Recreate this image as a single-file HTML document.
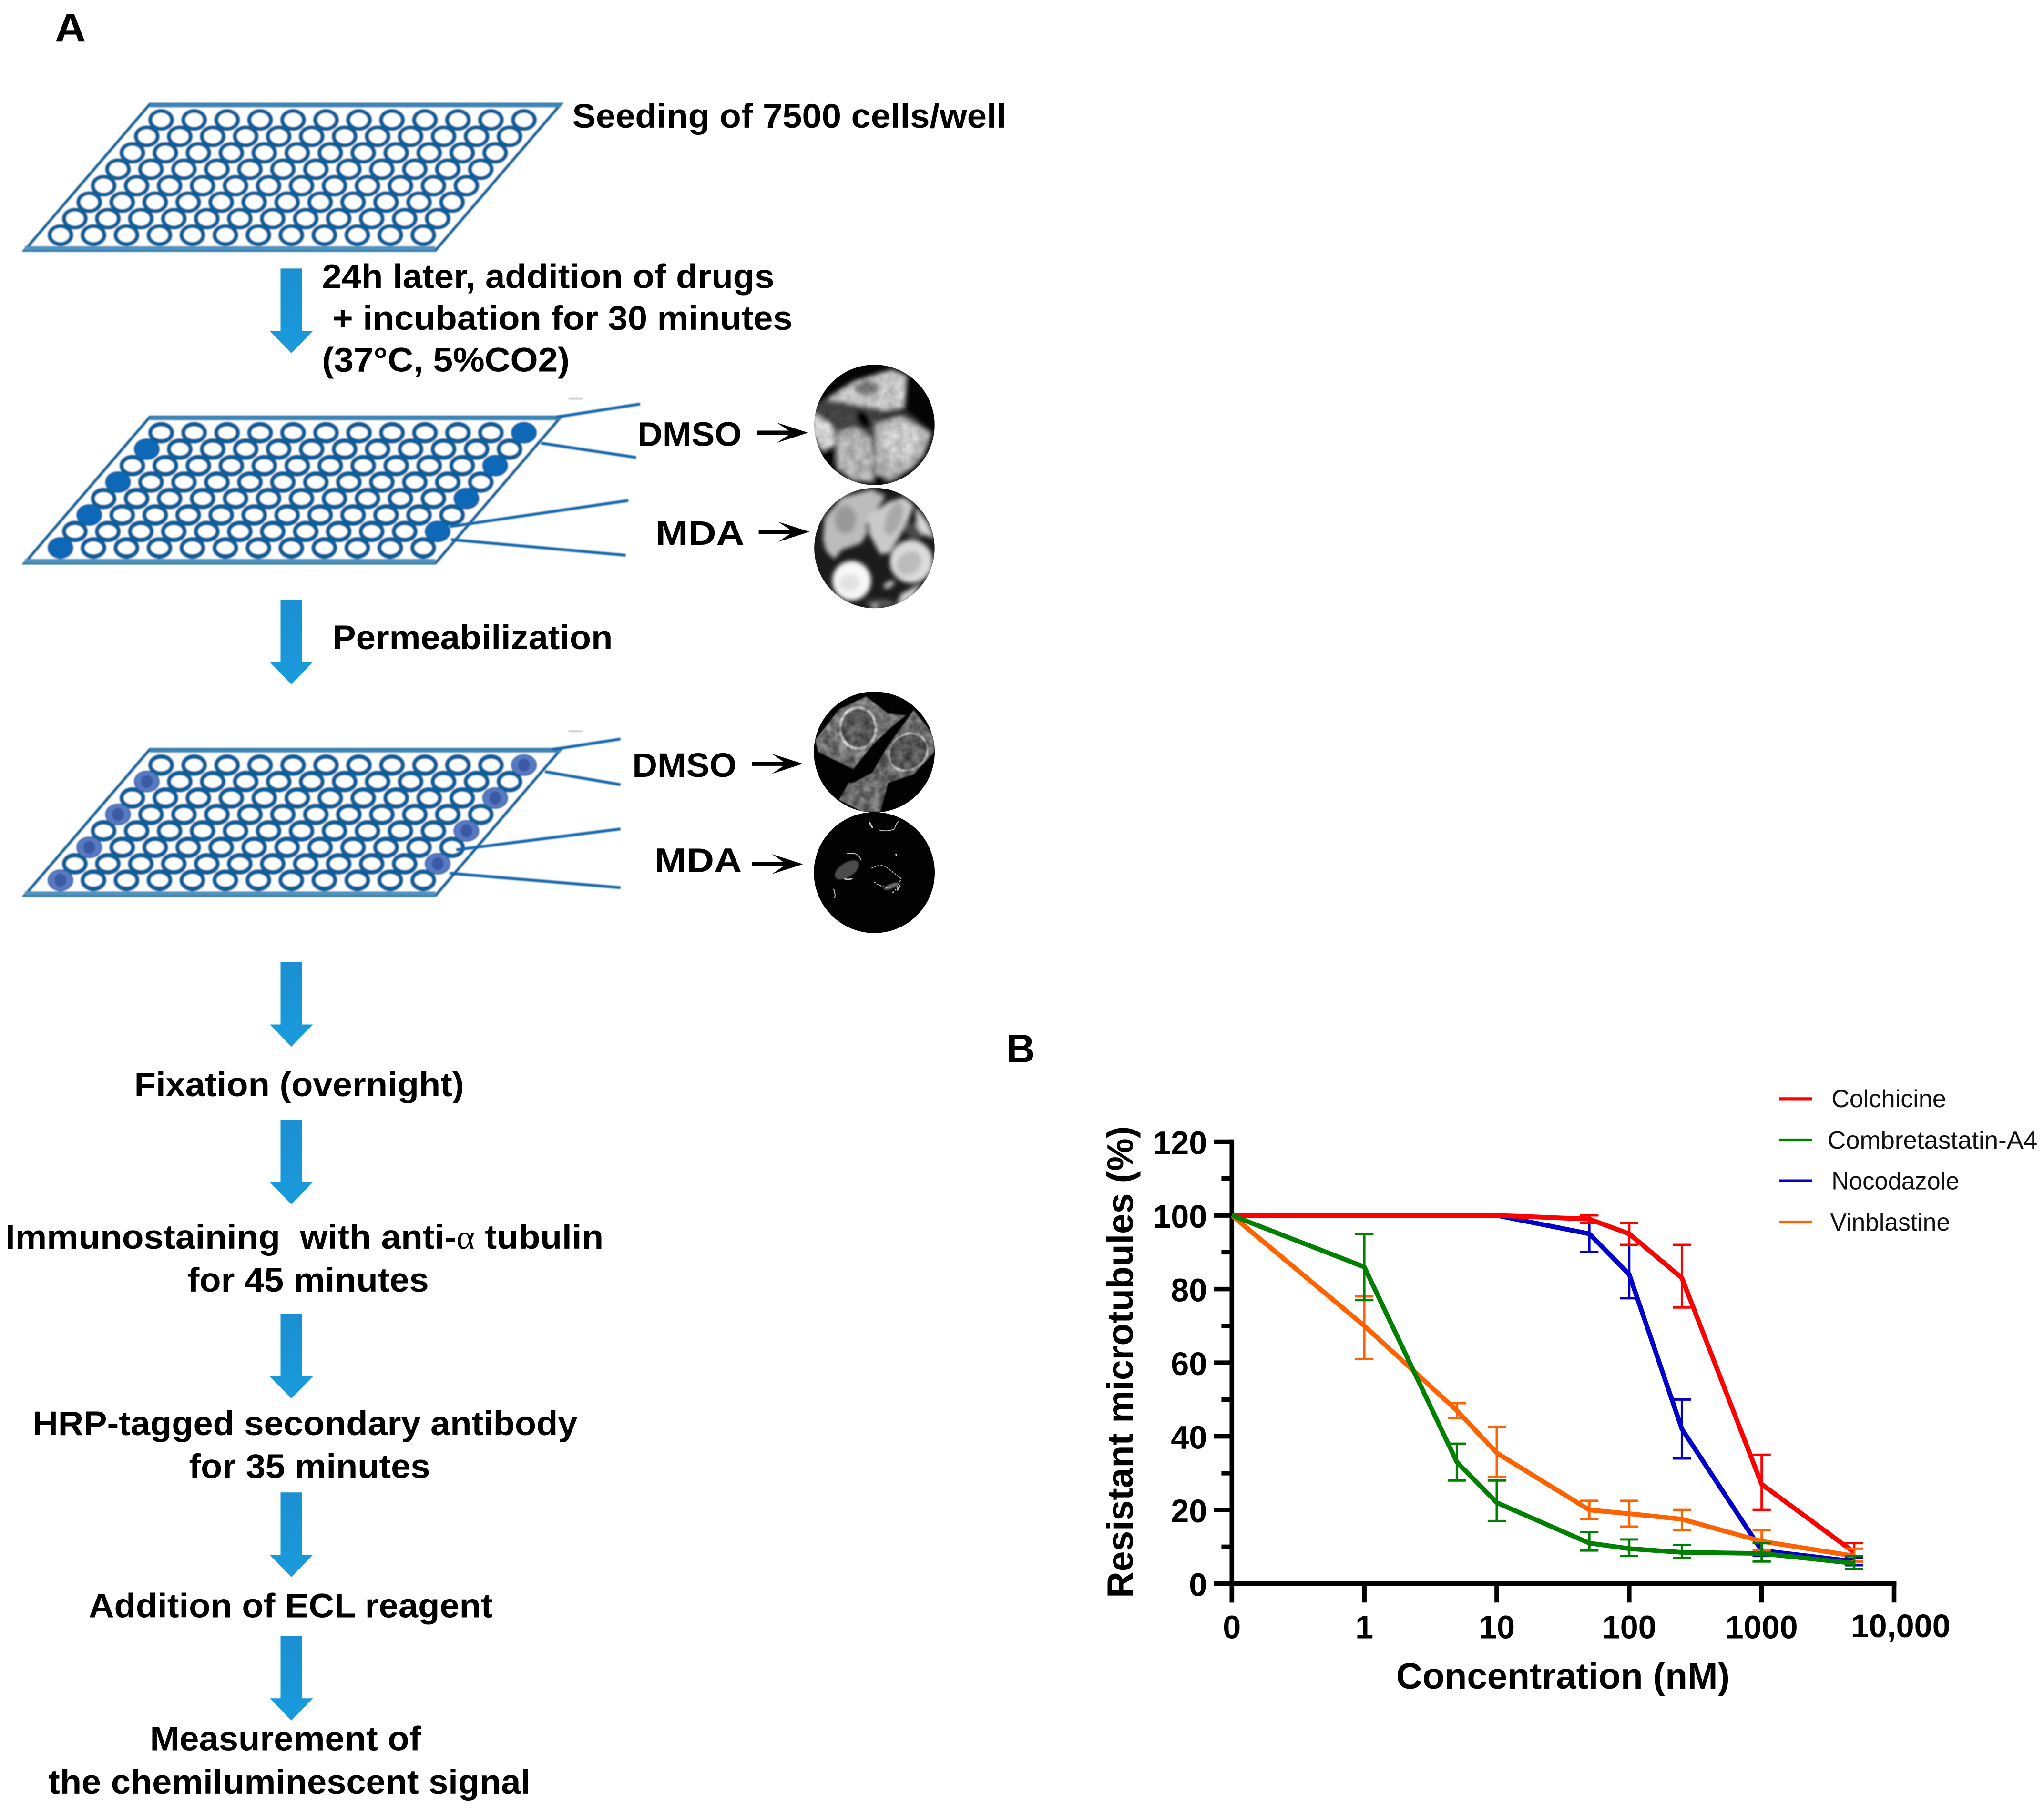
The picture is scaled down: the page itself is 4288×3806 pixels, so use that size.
<!DOCTYPE html>
<html lang="en">
<head>
<meta charset="utf-8">
<title>Microtubule resistance assay</title>
<style>
html,body{margin:0;padding:0;background:#fff}
svg{display:block}
text{font-family:"Liberation Sans",Arial,sans-serif;font-weight:700;fill:#000}
.s{font-size:26px}
.lbl{font-size:28px}
.tick{font-size:25px}
.leg{font-size:19px;font-weight:400;fill:#111}
</style>
</head>
<body>
<svg id="fig" xmlns="http://www.w3.org/2000/svg" width="4288" height="3806" viewBox="0 0 1568 1391.75">
<defs>
  <linearGradient id="ag" x1="0" y1="0" x2="0" y2="1"><stop offset="0" stop-color="#1b8fd2"/><stop offset="1" stop-color="#1a9bdc"/></linearGradient>
  <filter id="soft" x="-5%" y="-5%" width="110%" height="110%"><feGaussianBlur stdDeviation="0.5"/></filter>
  <filter id="zblur" x="-25%" y="-25%" width="150%" height="150%"><feGaussianBlur stdDeviation="14"/></filter>
  <filter id="zblur2" x="-25%" y="-25%" width="150%" height="150%"><feGaussianBlur stdDeviation="3.5"/></filter>
  <filter id="fib" x="-5%" y="-5%" width="110%" height="110%">
    <feTurbulence type="fractalNoise" baseFrequency="0.16" numOctaves="3" seed="4" result="n"/>
    <feColorMatrix in="n" type="matrix" values="0 0 0 0 1 0 0 0 0 1 0 0 0 0 1 1.9 0 0 0 -0.45" result="m"/>
    <feComposite in="SourceGraphic" in2="m" operator="in"/>
    <feGaussianBlur stdDeviation="0.3"/>
  </filter>
  <clipPath id="c1"><circle cx="670.8" cy="326" r="46.2"/></clipPath>
  <clipPath id="c2"><circle cx="670.8" cy="420.5" r="46.2"/></clipPath>
  <clipPath id="c3"><circle cx="670.7" cy="577" r="46.4"/></clipPath>
  <clipPath id="c4"><circle cx="670.7" cy="669.5" r="46.4"/></clipPath>
  <g id="blue-arrow"><path d="M-8.3 0H8.3V48H16.5L0 65L-16.5 48H-8.3Z" fill="url(#ag)"/></g>
  <g id="black-arrow"><path d="M0 -1.6H24L15 -7.7L39 0L15 7.7L24 1.6H0Z" fill="#000"/></g>
</defs>

<rect width="1568" height="1391.75" fill="#fff"/>

<text x="42" y="32" style="font-size:31px" textLength="24" lengthAdjust="spacingAndGlyphs">A</text>
<text x="772" y="815" style="font-size:31px" textLength="22" lengthAdjust="spacingAndGlyphs">B</text>

<g id="plates"></g>

<g stroke="#1566ad" stroke-width="2.2" fill="none" filter="url(#soft)">
  <path d="M427 320L491 310M415 340L488 351M345 404L482 384M346 414L480 426"/>
  <path d="M424 575L476 567M418 592L476 602M350 652L476 636M345 670L476 681"/>
  <path d="M436 306H447M436 561H447" stroke="#bbb" stroke-width="1"/>
</g>

<g>
  <use href="#blue-arrow" x="223.5" y="206"/>
  <use href="#blue-arrow" x="223.5" y="460"/>
  <use href="#blue-arrow" x="223.5" y="738"/>
  <use href="#blue-arrow" x="223.5" y="859"/>
  <use href="#blue-arrow" x="223.5" y="1008"/>
  <use href="#blue-arrow" x="223.5" y="1145"/>
  <use href="#blue-arrow" x="223.5" y="1255"/>
</g>

<g>
  <text class="s" x="439" y="98" textLength="333" lengthAdjust="spacingAndGlyphs">Seeding of 7500 cells/well</text>
  <text class="s" x="247" y="221" textLength="347" lengthAdjust="spacingAndGlyphs">24h later, addition of drugs</text>
  <text class="s" x="255" y="253" textLength="353" lengthAdjust="spacingAndGlyphs">+ incubation for 30 minutes</text>
  <text class="s" x="247" y="285" textLength="190" lengthAdjust="spacingAndGlyphs">(37°C, 5%CO2)</text>
  <text class="s" x="489" y="342" textLength="80" lengthAdjust="spacingAndGlyphs">DMSO</text>
  <text class="s" x="503" y="418" textLength="68" lengthAdjust="spacingAndGlyphs">MDA</text>
  <text class="s" x="255" y="498" textLength="215" lengthAdjust="spacingAndGlyphs">Permeabilization</text>
  <text class="s" x="485" y="596" textLength="80" lengthAdjust="spacingAndGlyphs">DMSO</text>
  <text class="s" x="502" y="669" textLength="67" lengthAdjust="spacingAndGlyphs">MDA</text>
  <text class="s" x="103" y="841" textLength="253" lengthAdjust="spacingAndGlyphs">Fixation (overnight)</text>
  <text class="s" x="4" y="958" textLength="459" lengthAdjust="spacingAndGlyphs" xml:space="preserve">Immunostaining  with anti-<tspan style="font-family:'Liberation Serif',serif;font-weight:400">α</tspan> tubulin</text>
  <text class="s" x="144" y="991" textLength="185" lengthAdjust="spacingAndGlyphs">for 45 minutes</text>
  <text class="s" x="25" y="1101" textLength="418" lengthAdjust="spacingAndGlyphs">HRP-tagged secondary antibody</text>
  <text class="s" x="145" y="1134" textLength="185" lengthAdjust="spacingAndGlyphs">for 35 minutes</text>
  <text class="s" x="68" y="1241" textLength="310" lengthAdjust="spacingAndGlyphs">Addition of ECL reagent</text>
  <text class="s" x="115" y="1343" textLength="208" lengthAdjust="spacingAndGlyphs">Measurement of</text>
  <text class="s" x="37" y="1376" textLength="370" lengthAdjust="spacingAndGlyphs">the chemiluminescent signal</text>
</g>

<g>
  <use href="#black-arrow" x="581" y="332"/>
  <use href="#black-arrow" x="582" y="408"/>
  <use href="#black-arrow" x="577" y="586"/>
  <use href="#black-arrow" x="577" y="663"/>
</g>

<!-- micrographs -->
<g clip-path="url(#c1)">
  <circle cx="670.8" cy="326" r="46.2" fill="#050505"/>
  <g transform="translate(618 274.25) scale(.1219)">
    <g filter="url(#zblur)">
      <path d="M90 270L300 300L480 345L640 340L800 470L750 620L680 700L540 790L430 790L300 780L190 700L190 600L100 590L55 480L60 340Z" fill="#4a4a4a"/>
      <path d="M120 265L300 150L540 75L640 115L625 320L480 335L300 295Z" fill="#d8d8d8"/>
      <ellipse cx="385" cy="195" rx="72" ry="50" fill="#858585"/>
      <path d="M40 340L170 430L190 540L100 590L40 480Z" fill="#e4e4e4"/>
      <path d="M200 470L310 440L410 500L430 640L420 785L300 775L195 700Z" fill="#c0c0c0"/>
      <ellipse cx="285" cy="610" rx="85" ry="95" fill="#c4c4c4"/>
      <path d="M440 420L600 370L790 480L740 610L670 690L540 770L440 740Z" fill="#c4c4c4"/>
      <ellipse cx="600" cy="520" rx="115" ry="115" fill="#e0e0e0"/>
      <ellipse cx="365" cy="390" rx="36" ry="62" transform="rotate(-28 365 390)" fill="#000"/>
      <ellipse cx="150" cy="625" rx="40" ry="50" fill="#000"/>
      <ellipse cx="465" cy="770" rx="35" ry="35" fill="#111"/>
      <ellipse cx="540" cy="350" rx="80" ry="16" fill="#333"/>
    </g>
  </g>
  <circle cx="670.8" cy="326" r="46.2" fill="#000" opacity=".18" filter="url(#fib)"/>
</g>
<g clip-path="url(#c2)">
  <circle cx="670.8" cy="420.5" r="46.2" fill="#1b1b1b"/>
  <g transform="translate(618 369.3) scale(.1219)">
    <g filter="url(#zblur)">
      <ellipse cx="690" cy="310" rx="60" ry="50" fill="#4a4a4a"/>
      <ellipse cx="470" cy="770" rx="90" ry="30" fill="#555"/>
      <path d="M110 370L120 230L230 100L420 50L500 100L380 280L390 320L350 390L230 430L180 490L130 440Z" fill="#bcbcbc"/>
      <ellipse cx="250" cy="240" rx="68" ry="90" fill="#999"/>
      <path d="M390 220L520 130L620 100L680 150L640 260L590 350L530 450L470 460L400 330Z" fill="#cacaca"/>
      <ellipse cx="555" cy="235" rx="48" ry="110" transform="rotate(20 555 235)" fill="#a8a8a8"/>
      <path d="M690 160L770 260L810 360L730 330L700 280Z" fill="#d6d6d6"/>
      <ellipse cx="665" cy="505" rx="135" ry="135" fill="#dcdcdc"/>
      <ellipse cx="650" cy="515" rx="85" ry="68" transform="rotate(-40 650 515)" fill="#bcbcbc"/>
      <ellipse cx="290" cy="625" rx="122" ry="125" fill="#f8f8f8"/>
      <ellipse cx="275" cy="640" rx="65" ry="55" fill="#e2e2e2"/>
      <path d="M600 710L730 640L670 730L570 790Z" fill="#d4d4d4"/>
      <ellipse cx="525" cy="650" rx="38" ry="20" transform="rotate(-30 525 650)" fill="#bdbdbd"/>
      <ellipse cx="435" cy="790" rx="16" ry="12" fill="#ddd"/>
      <ellipse cx="480" cy="65" rx="45" ry="18" fill="#0a0a0a"/>
    </g>
  </g>
</g>
<g clip-path="url(#c3)">
  <circle cx="670.7" cy="577" r="46.4" fill="#040404"/>
  <g transform="translate(603.4 519.3) scale(.1219 .1311)">
    <g filter="url(#zblur2)">
      <path d="M180 370L330 190L500 115L640 215L750 225L640 310L540 400L420 540L200 440Z" fill="#999"/>
      <path d="M420 620L540 560L640 400L800 195L925 340L930 440L800 570L640 620L590 790L480 790L330 720L390 620Z" fill="#8c8c8c"/>
      <ellipse cx="450" cy="300" rx="112" ry="120" fill="#777" stroke="#eee" stroke-width="16"/>
      <ellipse cx="765" cy="440" rx="125" ry="105" transform="rotate(-25 765 440)" fill="#717171" stroke="#ddd" stroke-width="12"/>
    </g>
  </g>
  <circle cx="670.7" cy="577" r="46.4" fill="#000" opacity=".5" filter="url(#fib)"/>
</g>
<g clip-path="url(#c4)">
  <circle cx="670.7" cy="669.5" r="46.4" fill="#020202"/>
  <g transform="translate(603.4 519.3) scale(.1219 .1311)" fill="none" stroke="#c8c8c8" stroke-width="7">
    <ellipse cx="380" cy="1130" rx="85" ry="42" transform="rotate(-30 380 1130)" fill="#4c4c4c" stroke="none" filter="url(#zblur2)"/>
    <ellipse cx="660" cy="1225" rx="50" ry="14" transform="rotate(-20 660 1225)" fill="#666" stroke="none" filter="url(#zblur2)"/>
    <path d="M520 850L542 885" stroke-width="10"/>
    <path d="M580 895Q630 910 680 890Q690 850 710 845" stroke-width="5"/>
    <path d="M380 1035Q450 1020 470 1075" stroke-width="5"/>
    <path d="M360 1180Q385 1190 415 1180" stroke-width="8"/>
    <path d="M535 1120Q590 1090 630 1115L720 1180Q700 1240 660 1270" stroke-width="6" stroke-dasharray="12 8"/>
    <path d="M550 1200Q590 1230 650 1235" stroke-width="6" stroke-dasharray="12 8"/>
    <path d="M715 1220L695 1250" stroke-width="10"/>
    <path d="M295 1240Q310 1270 302 1295" stroke-width="6"/>
    <circle cx="690" cy="1040" r="6" fill="#ddd" stroke="none"/>
  </g>
</g>

<!-- chart -->
<g id="chart">
  <text x="0" y="0" text-anchor="middle" class="lbl" transform="translate(869 1045) rotate(-90)" textLength="362" lengthAdjust="spacingAndGlyphs">Resistant microtubules (%)</text>
  <text x="1071" y="1295.5" class="lbl" textLength="256" lengthAdjust="spacingAndGlyphs">Concentration (nM)</text>
  <g id="axes"></g>
  <g id="series"></g>
  <g id="legend"></g>
</g>

<script>
// ---- chart data ----
const concentrations = [0, 1, 5, 10, 50, 100, 250, 1000, 5000];
const colchicineValues = [100, 100, 100, 100, 99, 95, 83, 27, 8.5];
const colchicineLow  = [null, null, null, null, 98, 92, 75, 20, 6];
const colchicineHigh = [null, null, null, null, 100, 98, 92, 35, 11];
const combretastatinValues = [100, 86, 33, 22, 11, 9.5, 8.5, 8.2, 5.5];
const combretastatinLow  = [null, 77, 28, 17, 9, 7.5, 7, 6, 4];
const combretastatinHigh = [null, 95, 38, 28, 14, 12, 10.5, 11, 7.5];
const nocodazoleValues = [100, 100, 100, 100, 95, 84, 42, 9, 6];
const nocodazoleLow  = [null, null, null, null, 90, 77.5, 34, 7.5, 5];
const nocodazoleHigh = [null, null, null, null, 100, 92, 50, 11, 7];
const vinblastineValues = [100, 70, 47, 35.5, 20, 19, 17.5, 11.5, 7.5];
const vinblastineLow  = [null, 61, 45, 29, 17.5, 15.5, 14.5, 9, 6];
const vinblastineHigh = [null, 78, 49, 42.5, 22.5, 22.5, 20, 14.5, 9.5];
const seriesNames = ["Colchicine", "Combretastatin-A4", "Nocodazole", "Vinblastine"];
const seriesColors = ["#ff0000", "#008000", "#0000c8", "#ff6200"];
const xTickValues = [0, 1, 10, 100, 1000, 10000];
const xTickLabels = ["0", "1", "10", "100", "1000", "10,000"];
const yTickValues = [0, 20, 40, 60, 80, 100, 120];
const yTickLabels = ["0", "20", "40", "60", "80", "100", "120"];
const yMinorTickValues = [10, 30, 50, 70, 90, 110];

const NS = "http://www.w3.org/2000/svg";
function xScale(v) {
  const decade = 101.6;
  return 945 + decade * (Math.log10(Math.max(v, 0.1)) + 1);
}
function yScale(v) {
  return 1215 - v * (339 / 120);
}
function mk(tag, attrs, parent) {
  const e = document.createElementNS(NS, tag);
  for (const k in attrs) e.setAttribute(k, attrs[k]);
  parent.appendChild(e);
  return e;
}

// ---- well plates ----
const plateOffsets = [0, 240, 495];
const plateRoot = document.getElementById("plates");
plateOffsets.forEach(function (dy, p) {
  const g = mk("g", { filter: "url(#soft)" }, plateRoot);
  
  
  const frame = mk("polygon", { points: `115,${80 + dy} 430,${80 + dy} 334,${192 + dy} 19,${192 + dy}`, fill: "#fff", stroke: "#0f5f9a", "stroke-width": 2.2 }, g);
  
  
  const holeRy = p === 0 ? 5.4 : 4.8;
  const cells = [];
  for (let r = 0; r < 8; r++) {
    for (let c = 0; c < 12; c++) {
      cells.push({
        cx: 123.6 - 11.03 * r + 25.3 * c,
        cy: 92 + dy + 12.62 * r,
        drug: p > 0 && ((c === 0 && r % 2 === 1) || (c === 11 && r % 2 === 0))
      });
    }
  }
  cells.forEach(function (w) {
    const ring = mk("ellipse", { cx: w.cx, cy: w.cy, rx: 10, ry: 8.4, fill: "#0f5f9a" }, g);
    
    
  });
  cells.forEach(function (w) {
    if (w.drug) {
      const f = mk("ellipse", { cx: w.cx, cy: w.cy, rx: 9.4, ry: 7.8, fill: p === 1 ? "#0b68b8" : "#5878c2" }, g);
      
      
      if (p === 2) {
        const core = mk("ellipse", { cx: w.cx, cy: w.cy, rx: 4.5, ry: 5, fill: "#3a5aa4" }, g);
        
        
      }
    } else {
      const h = mk("ellipse", { cx: w.cx, cy: w.cy, rx: 6.7, ry: holeRy, fill: "#fff" }, g);
      
      
    }
  });
  const topBand = mk("line", { x1: 115, x2: 430, y1: 81 + dy, y2: 81 + dy, stroke: "#3c87b8", "stroke-width": 3 }, g);
  
  
  const bottomBand = mk("line", { x1: 19, x2: 334, y1: 190.5 + dy, y2: 190.5 + dy, stroke: "#4f93bf", "stroke-width": 3.4 }, g);
  
  
});

// ---- axes ----
const axes = document.getElementById("axes");
const yAxisLine = mk("line", { x1: xScale(0), x2: xScale(0), y1: yScale(120) - 1.8, y2: yScale(0) + 14.5, stroke: "#000", "stroke-width": 3.5 }, axes);


const xAxisLine = mk("line", { x1: xScale(0) - 14, x2: xScale(10000) + 1.8, y1: yScale(0), y2: yScale(0), stroke: "#000", "stroke-width": 3.5 }, axes);


yTickValues.forEach(function (v, i) {
  const t = mk("line", { x1: xScale(0) - 14, x2: xScale(0), y1: yScale(v), y2: yScale(v), stroke: "#000", "stroke-width": 3.5 }, axes);
  
  
  const l = mk("text", { x: 926, y: yScale(v) + 9.4, "text-anchor": "end", class: "tick" }, axes);
  
  
  l.textContent = yTickLabels[i];
});
yMinorTickValues.forEach(function (v) {
  const t = mk("line", { x1: xScale(0) - 8, x2: xScale(0), y1: yScale(v), y2: yScale(v), stroke: "#000", "stroke-width": 3.5 }, axes);
  
  
});
xTickValues.forEach(function (v, i) {
  const x = xScale(v);
  const t = mk("line", { x1: x, x2: x, y1: yScale(0), y2: yScale(0) + 14.5, stroke: "#000", "stroke-width": 3.5 }, axes);
  
  
  const l = mk("text", { x: x + (i === 5 ? 5 : 0), y: i === 5 ? 1256 : 1257, "text-anchor": "middle", class: "tick" }, axes);
  
  
  l.textContent = xTickLabels[i];
});

// ---- series ----
const seriesValues = [colchicineValues, combretastatinValues, nocodazoleValues, vinblastineValues];
const seriesLow = [colchicineLow, combretastatinLow, nocodazoleLow, vinblastineLow];
const seriesHigh = [colchicineHigh, combretastatinHigh, nocodazoleHigh, vinblastineHigh];
const seriesRoot = document.getElementById("series");
const drawOrder = [2, 0, 3, 1];
drawOrder.forEach(function (s) {
  const g = mk("g", {}, seriesRoot);
  
  
  concentrations.forEach(function (c, i) {
    if (seriesLow[s][i] === null) return;
    const x = xScale(c), yl = yScale(seriesLow[s][i]), yh = yScale(seriesHigh[s][i]);
    const eb = mk("path", { d: `M${x} ${yl}V${yh}M${x - 7} ${yl}H${x + 7}M${x - 7} ${yh}H${x + 7}`, stroke: seriesColors[s], "stroke-width": 1.8, fill: "none" }, g);
    
    
  });
  const pts = concentrations.map(function (c, i) { return xScale(c) + "," + yScale(seriesValues[s][i]); }).join(" ");
  const line = mk("polyline", { points: pts, fill: "none", stroke: seriesColors[s], "stroke-width": 3.6, "stroke-linejoin": "round" }, g);
  
  
});

// ---- legend ----
const legendRoot = document.getElementById("legend");
const legendTextX = [1405, 1402, 1405, 1404];
const legendTextW = [88, 161, 98, 92];
const legendY = [843, 874.7, 906, 937.6];
seriesNames.forEach(function (name, i) {
  const sw = mk("line", { x1: 1365, x2: 1390, y1: legendY[i], y2: legendY[i], stroke: seriesColors[i], "stroke-width": 2.3 }, legendRoot);
  
  
  const t = mk("text", { x: legendTextX[i], y: legendY[i] + 6.5, class: "leg", textLength: legendTextW[i], lengthAdjust: "spacingAndGlyphs" }, legendRoot);
  
  
  t.textContent = name;
});
</script>
</svg>
</body>
</html>
